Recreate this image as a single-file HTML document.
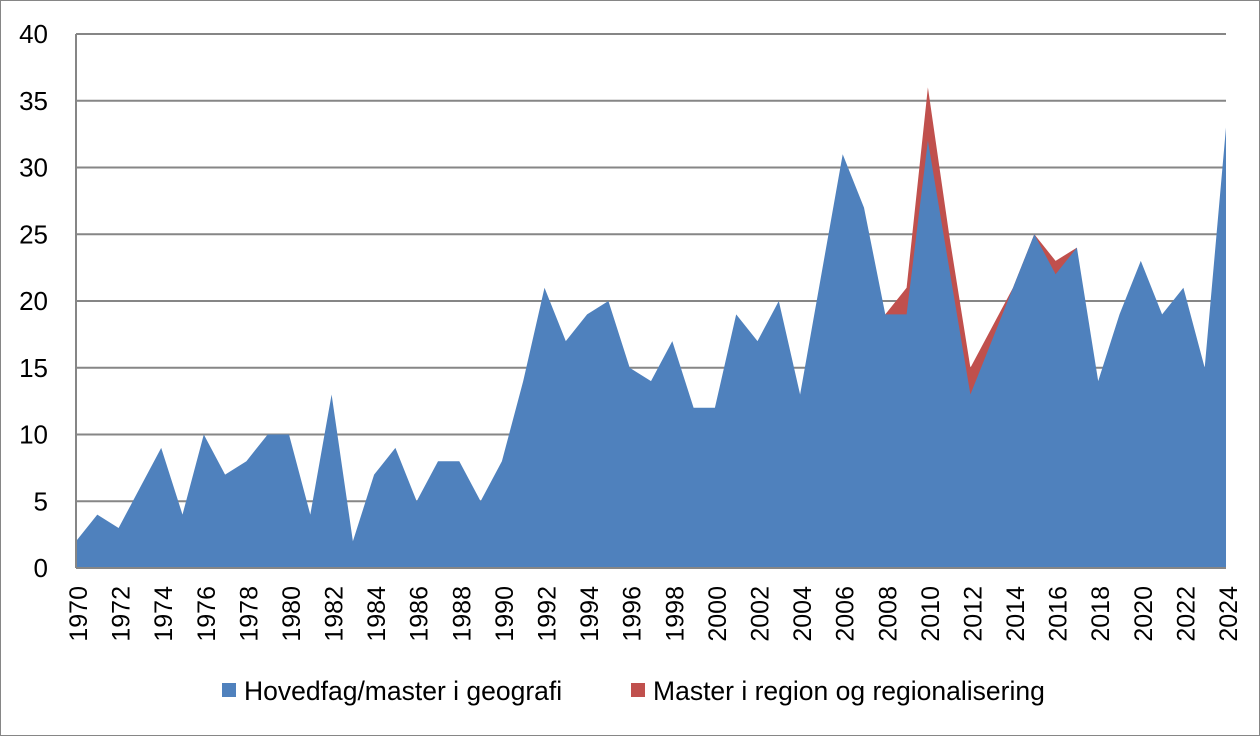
<!DOCTYPE html><html><head><style>body{margin:0;background:#fff}svg text{font-family:"Liberation Sans",sans-serif;fill:#000}</style></head><body>
<svg width="1260" height="736" viewBox="0 0 1260 736" xmlns="http://www.w3.org/2000/svg">
<rect x="0.5" y="0.5" width="1259" height="735" fill="#fff" stroke="#868686"/>
<g stroke="#868686" stroke-width="2">
<line x1="76" x2="1226" y1="501.25" y2="501.25"/><line x1="76" x2="1226" y1="434.5" y2="434.5"/>
<line x1="76" x2="1226" y1="367.75" y2="367.75"/><line x1="76" x2="1226" y1="301" y2="301"/>
<line x1="76" x2="1226" y1="234.25" y2="234.25"/><line x1="76" x2="1226" y1="167.5" y2="167.5"/>
<line x1="76" x2="1226" y1="100.75" y2="100.75"/><line x1="76" x2="1226" y1="34" y2="34"/>
</g>
<path fill="#c0504d" d="M885.3 568 L885.3 314.4 L906.6 287.7 L927.9 87.4 L949.1 234.3 L970.4 367.8 L991.7 327.7 L1013 287.7 L1034.3 234.3 L1055.6 260.9 L1076.9 247.6 L1076.9 568 Z"/>
<path fill="#4f81bd" d="M76 568 L76 541.3 L97.3 514.6 L118.6 528 L139.9 487.9 L161.2 447.9 L182.5 514.6 L203.8 434.5 L225.1 474.6 L246.4 461.2 L267.7 434.5 L289 434.5 L310.3 514.6 L331.6 394.5 L352.9 541.3 L374.1 474.6 L395.4 447.9 L416.7 501.3 L438 461.2 L459.3 461.2 L480.6 501.3 L501.9 461.2 L523.2 381.1 L544.5 287.7 L565.8 341.1 L587.1 314.4 L608.4 301 L629.7 367.8 L651 381.1 L672.3 341.1 L693.6 407.8 L714.9 407.8 L736.2 314.4 L757.5 341.1 L778.8 301 L800.1 394.5 L821.4 274.3 L842.7 154.2 L864 207.6 L885.3 314.4 L906.6 314.4 L927.9 140.8 L949.1 267.6 L970.4 394.5 L991.7 341.1 L1013 287.7 L1034.3 234.3 L1055.6 274.3 L1076.9 247.6 L1098.2 381.1 L1119.5 314.4 L1140.8 260.9 L1162.1 314.4 L1183.4 287.7 L1204.7 367.8 L1226 127.5 L1226 568 Z"/>
<g stroke="#868686" stroke-width="2"><line x1="76" x2="76" y1="34" y2="568"/><line x1="76" x2="1226" y1="568" y2="568"/></g>
<g font-size="26" text-anchor="end">
<text x="48" y="577">0</text><text x="48" y="510.25">5</text><text x="48" y="443.5">10</text><text x="48" y="376.75">15</text><text x="48" y="310">20</text><text x="48" y="243.25">25</text><text x="48" y="176.5">30</text><text x="48" y="109.75">35</text><text x="48" y="43">40</text>
</g>
<g font-size="25" text-anchor="end">
<text transform="translate(87,586) rotate(-90)">1970</text>
<text transform="translate(129.6,586) rotate(-90)">1972</text>
<text transform="translate(172.2,586) rotate(-90)">1974</text>
<text transform="translate(214.8,586) rotate(-90)">1976</text>
<text transform="translate(257.4,586) rotate(-90)">1978</text>
<text transform="translate(300,586) rotate(-90)">1980</text>
<text transform="translate(342.6,586) rotate(-90)">1982</text>
<text transform="translate(385.1,586) rotate(-90)">1984</text>
<text transform="translate(427.7,586) rotate(-90)">1986</text>
<text transform="translate(470.3,586) rotate(-90)">1988</text>
<text transform="translate(512.9,586) rotate(-90)">1990</text>
<text transform="translate(555.5,586) rotate(-90)">1992</text>
<text transform="translate(598.1,586) rotate(-90)">1994</text>
<text transform="translate(640.7,586) rotate(-90)">1996</text>
<text transform="translate(683.3,586) rotate(-90)">1998</text>
<text transform="translate(725.9,586) rotate(-90)">2000</text>
<text transform="translate(768.5,586) rotate(-90)">2002</text>
<text transform="translate(811.1,586) rotate(-90)">2004</text>
<text transform="translate(853.7,586) rotate(-90)">2006</text>
<text transform="translate(896.3,586) rotate(-90)">2008</text>
<text transform="translate(938.9,586) rotate(-90)">2010</text>
<text transform="translate(981.4,586) rotate(-90)">2012</text>
<text transform="translate(1024,586) rotate(-90)">2014</text>
<text transform="translate(1066.6,586) rotate(-90)">2016</text>
<text transform="translate(1109.2,586) rotate(-90)">2018</text>
<text transform="translate(1151.8,586) rotate(-90)">2020</text>
<text transform="translate(1194.4,586) rotate(-90)">2022</text>
<text transform="translate(1237,586) rotate(-90)">2024</text>
</g>
<rect x="222" y="683" width="14" height="14" fill="#4f81bd"/><text x="244" y="700" font-size="26.5">Hovedfag/master i geografi</text>
<rect x="631" y="683" width="14" height="14" fill="#c0504d"/><text x="653" y="700" font-size="26.5">Master i region og regionalisering</text>
</svg></body></html>
